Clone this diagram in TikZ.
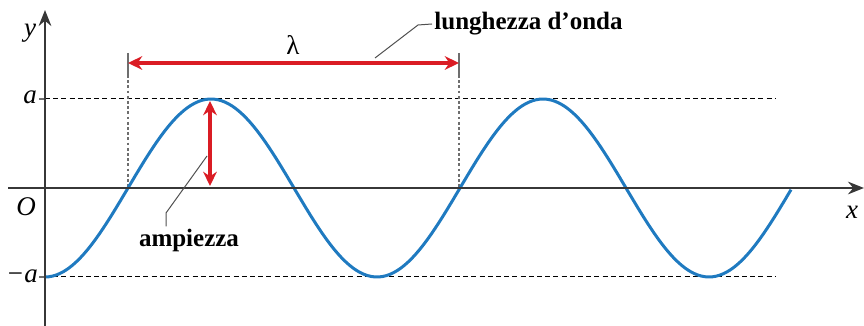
\documentclass[tikz,border=0pt]{standalone}
\usepackage{fontspec}
\setmainfont{Liberation Serif}
\usepackage{xcolor}
\usetikzlibrary{arrows.meta, positioning}
\definecolor{wavblue}{RGB}{31,122,192}
\definecolor{wavred}{RGB}{218,28,36}
\definecolor{axisgray}{RGB}{55,55,55}
\definecolor{leadgray}{RGB}{80,80,80}
\definecolor{guidegray}{RGB}{110,110,110}

\begin{document}
\begin{tikzpicture}[
        x=0.5pt, y=-0.5pt,
        axis/.style={-{Stealth[length=2.8mm, width=2.2mm]}, line width=1.2pt, draw=axisgray},
        guide/.style={line width=0.5pt, dash pattern=on 2.5pt off 1.6pt},
        dotguide/.style={line width=0.7pt, draw=guidegray, dash pattern=on 1.4pt off 1.2pt},
        tick/.style={line width=0.7pt, draw=guidegray},
        arrow/.style={{Stealth[length=2.5mm, width=2.4mm]}-{Stealth[length=2.5mm, width=2.4mm]}, line width=1.7pt, draw=wavred},
        wave/.style={line width=1.5pt, draw=wavblue},
        leader/.style={line width=0.5pt, draw=leadgray},
        lbl/.style={font=\fontsize{13.5}{15}\selectfont\itshape, inner sep=1pt},
        caption/.style={font=\fontsize{12.5}{15}\selectfont\bfseries, inner sep=1pt}
    ]
        \useasboundingbox (0,0) rectangle (864,326);
        % axes
        \coordinate (xstart) at (8,188);
        \coordinate (xend) at (864,188);
        \coordinate (ystart) at (45,326);
        \coordinate (yend) at (45,10);
        % guide lines
        \coordinate (atop) at (45,99);
        \coordinate (abot) at (45,277);
        \draw[guide] (atop) -- (776,99);
        \draw[guide] (abot) -- (776,277);
        \draw[tick] (39,99) -- (atop);
        \draw[tick] (39,277) -- (abot);
        \coordinate (lamA) at (128,63);
        \coordinate (lamB) at (459,63);
        \draw[dotguide] (128,75) -- (128,188);
        \draw[dotguide] (459,75) -- (459,188);
        \draw[tick] (128,53) -- (128,75);
        \draw[tick] (459,53) -- (459,75);
        % wave
        \draw[wave] plot[domain=45:791, samples=200, smooth] (\x, {188+89*cos(1.0843373*(\x-45))});
        \draw[axis] (xstart) -- (xend);
        \draw[axis] (ystart) -- (yend);
        % labels
        \node[lbl] (ylab) at (30,33) {y};
        \node[lbl] (alab) at (30,97) {a};
        \node[lbl] (malab) at (22,276) {−a};
        \node[lbl] (olab) at (26,207) {O};
        \node[lbl] (xlab) at (852,212) {x};
        % wavelength
        \draw[arrow] (lamA) -- (lamB);
        \node[font=\fontsize{13.5}{15}\selectfont] (lambda) at (293,45) {λ};
        \node[caption, anchor=west] (lunghezza) at (432,24) {lunghezza d’onda};
        \coordinate (lamtip) at (375,58);
        \draw[leader] (lamtip) -- ++(43,-33) -- (lunghezza.west);
        % amplitude
        \coordinate (peak) at (210,101);
        \coordinate (base) at (210,186);
        \draw[arrow] (peak) -- (base);
        \node[caption] (ampiezza) at (189,240) {ampiezza};
        \coordinate (amptip) at (207,156);
        \coordinate (ampbend) at (166,213);
        \draw[leader] (amptip) -- (ampbend) -- (ampbend |- ampiezza.north);
    \end{tikzpicture}
\end{document}
